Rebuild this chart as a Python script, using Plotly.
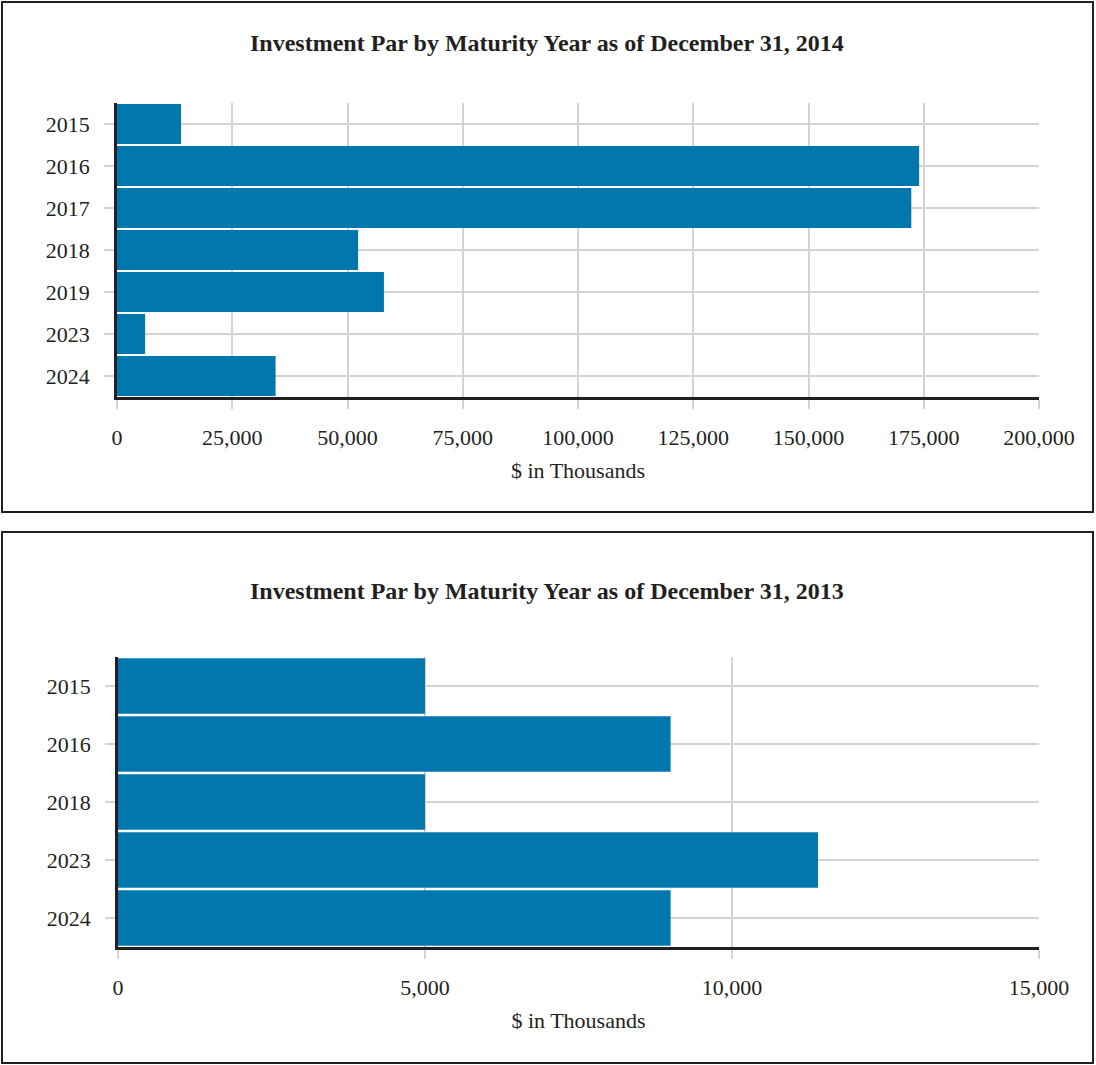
import plotly.graph_objects as go

#===========================================================================================================#

years_2014 = ["2015", "2016", "2017", "2018", "2019", "2023", "2024"]
par_2014 = [13900, 174000, 172300, 52300, 57900, 6100, 34400]

years_2013 = ["2015", "2016", "2018", "2023", "2024"]
par_2013 = [5000, 9000, 5000, 11400, 9000]

ticks_2014 = [0, 25000, 50000, 75000, 100000, 125000, 150000, 175000, 200000]
ticks_2013 = [0, 5000, 10000, 15000]

W, H = 1096, 1065
BAR = "#0077ad"
GRID = "#d3d3d3"
AXIS = "#231f20"
TEXT = "#231f20"
FONT = "Liberation Serif"

def px_x(v): return v / W
def px_y(v): return 1 - v / H

#===========================================================================================================#

fig = go.Figure()
fig.add_trace(go.Bar(y=years_2014, x=par_2014, orientation="h", marker_color=BAR,
                     marker_line_width=0, xaxis="x", yaxis="y"))
fig.add_trace(go.Bar(y=years_2013, x=par_2013, orientation="h", marker_color=BAR,
                     marker_line_width=0, xaxis="x2", yaxis="y2"))

xcommon = dict(showgrid=True, gridcolor=GRID, gridwidth=1.5, ticks="outside", ticklen=9,
               tickcolor=GRID, tickwidth=1.5, showline=True, linecolor=AXIS, linewidth=2.5,
               zeroline=False, tickformat=",", ticklabelstandoff=10, automargin=False,
               tickfont=dict(family=FONT, size=22, color=TEXT),
               title=dict(text="$ in Thousands", font=dict(family=FONT, size=22, color=TEXT), standoff=14))
ycommon = dict(showgrid=True, gridcolor=GRID, gridwidth=1.5, ticks="outside", ticklen=10,
               tickcolor=GRID, tickwidth=1.5, showline=True, linecolor=AXIS, linewidth=2.5,
               autorange="reversed", type="category", ticklabelstandoff=10, automargin=False,
               tickfont=dict(family=FONT, size=22, color=TEXT))

fig.update_layout(
    width=W, height=H, margin=dict(l=0, r=0, t=0, b=0, pad=0, autoexpand=False),
    paper_bgcolor="white", plot_bgcolor="white", showlegend=False, bargap=0.045,
    xaxis=dict(xcommon, domain=[px_x(117), px_x(1039)], range=[0, 200000], tickvals=ticks_2014, anchor="y"),
    yaxis=dict(ycommon, domain=[px_y(397), px_y(103)], anchor="x"),
    xaxis2=dict(xcommon, domain=[px_x(118), px_x(1039)], range=[0, 15000], tickvals=ticks_2013, anchor="y2"),
    yaxis2=dict(ycommon, domain=[px_y(947), px_y(657)], anchor="x2"),
)

titles = [("Investment Par by Maturity Year as of December 31, 2014", 43),
          ("Investment Par by Maturity Year as of December 31, 2013", 591)]
for text, y in titles:
    fig.add_annotation(text="<b>" + text + "</b>", xref="paper", yref="paper", x=px_x(547), y=px_y(y),
                       xanchor="center", yanchor="middle", showarrow=False,
                       font=dict(family=FONT, size=24, color=TEXT))

for top, bottom in [(2, 512), (532, 1063)]:
    fig.add_shape(type="rect", xref="paper", yref="paper", x0=px_x(2), x1=px_x(1093),
                  y0=px_y(bottom), y1=px_y(top), line=dict(color=AXIS, width=2))

# page has a default body margin; drop it so the figure sits at the window origin
fit_page = ("document.body.style.margin='0';document.body.style.overflow='hidden';"
            "Plotly.relayout(document.getElementById('{plot_id}'), {width: %d, height: %d});" % (W, H))
fig.write_html("out.html", post_script=fit_page, config={"displayModeBar": False, "responsive": False})
